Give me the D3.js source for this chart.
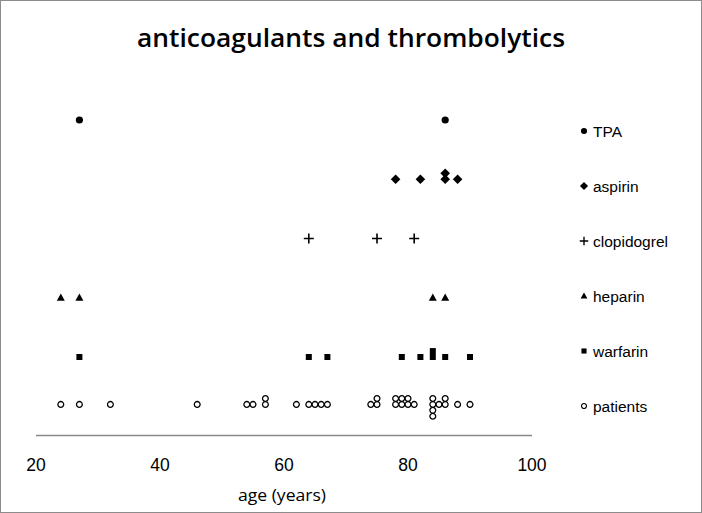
<!DOCTYPE html>
<html>
<head>
<meta charset="utf-8">
<script src="https://cdn.jsdelivr.net/npm/d3@7"></script>
<style>
  body { margin: 0; background: #fff; }
  svg { display: block; }
</style>
</head>
<body>
<div class="chart"></div>
<script>
//
// DATA
//
const seriesNames = ['TPA', 'aspirin', 'clopidogrel', 'heparin', 'warfarin', 'patients']
// row each series sits on (y value in the original sheet)
const seriesRows = [6, 5, 4, 3, 2, 1.2]
const tpaAges = [27, 86]
const aspirinAges = [78, 82, 86, 86, 88]
const clopidogrelAges = [64, 75, 81]
const heparinAges = [24, 27, 84, 86]
const warfarinAges = [27, 64, 67, 79, 82, 84, 84, 86, 90]
const patientAges = [24, 27, 32, 46, 54, 55, 57, 57, 62, 64, 65, 66, 67, 74, 75, 75,
    78, 78, 79, 79, 80, 80, 81, 84, 84, 84, 84, 85, 86, 86, 88, 90]
const xTicks = [20, 40, 60, 80, 100]

const seriesAges = [tpaAges, aspirinAges, clopidogrelAges, heparinAges, warfarinAges, patientAges]

//
// GLOBALS
//
const width = 702
const height = 513

const svg = d3.select('.chart')
    .append('svg')
    .attr('width', width)
    .attr('height', height)

// outer frame
svg.append('rect')
    .attr('x', 0.5).attr('y', 0.5)
    .attr('width', width - 1).attr('height', height - 1)
    .attr('fill', '#fff')
    .attr('stroke', '#8c8c8c')

const x = d3.scaleLinear().domain([20, 100]).range([36, 532])
const y = d3.scaleLinear().domain([2, 6]).range([357, 120])

// title
svg.append('text')
    .attr('x', 351)
    .attr('y', 47)
    .attr('text-anchor', 'middle')
    .attr('textLength', 428)
    .attr('lengthAdjust', 'spacingAndGlyphs')
    .style('font-family', 'Open Sans, Noto Sans, sans-serif')
    .style('font-size', '25px')
    .style('font-weight', 600)
    .text('anticoagulants and thrombolytics')

// x axis: line + labels only, no ticks
svg.append('line')
    .attr('x1', x(20)).attr('x2', x(100))
    .attr('y1', 435.5).attr('y2', 435.5)
    .attr('stroke', '#8a8a8a')
    .attr('stroke-width', 1.5)

svg.selectAll('.tick-label')
    .data(xTicks)
    .join('text')
    .attr('class', 'tick-label')
    .attr('x', d => x(d))
    .attr('y', 471)
    .attr('text-anchor', 'middle')
    .style('font-family', 'Liberation Sans, Arial, sans-serif')
    .style('font-size', '17.5px')
    .text(d => d)

svg.append('text')
    .attr('x', 282)
    .attr('y', 501)
    .attr('text-anchor', 'middle')
    .attr('textLength', 88)
    .attr('lengthAdjust', 'spacingAndGlyphs')
    .style('font-family', 'Open Sans, Noto Sans, sans-serif')
    .style('font-size', '16px')
    .text('age (years)')

// marker drawers, one per series
const markers = [
    g => g.append('circle').attr('r', 3.6).attr('fill', '#000'),
    g => g.append('path').attr('d', 'M0,-4.8L4.8,0L0,4.8L-4.8,0Z').attr('fill', '#000'),
    g => g.append('path').attr('d', 'M-5,0H5M0,-5V5').attr('stroke', '#000').attr('stroke-width', 1.6),
    g => g.append('path').attr('d', 'M0,-4.2L4,3L-4,3Z').attr('fill', '#000'),
    g => g.append('rect').attr('x', -3).attr('y', -3).attr('width', 6).attr('height', 6).attr('fill', '#000'),
    g => g.append('circle').attr('r', 2.9).attr('fill', '#fff').attr('stroke', '#000').attr('stroke-width', 1.3)
]

// duplicates in the sheet were nudged by +/-0.1 on y so they stay visible
const stackSteps = [0, 0.1, -0.1, -0.2, 0.2]

seriesNames.forEach((name, i) => {
    const seen = new Map()
    const pts = seriesAges[i].map(age => {
        const k = seen.get(age) || 0
        seen.set(age, k + 1)
        return { age, row: seriesRows[i] + stackSteps[k] }
    })
    const group = svg.append('g').attr('class', `series series-${i}`)
    pts.forEach(p => {
        const g = group.append('g')
            .attr('transform', `translate(${x(p.age)},${y(p.row)})`)
        markers[i](g)
    })
})

// legend on the right
const legend = svg.append('g').attr('class', 'legend')
seriesNames.forEach((name, i) => {
    const ly = 131 + i * 55
    const item = legend.append('g').attr('transform', `translate(584,${ly})`)
    const m = item.append('g').attr('transform', 'scale(0.85)')
    markers[i](m)
    item.append('text')
        .attr('x', 9)
        .attr('y', 5.5)
        .style('font-family', 'Liberation Sans, Arial, sans-serif')
        .style('font-size', '15.5px')
        .text(name)
})
</script>
</body>
</html>
